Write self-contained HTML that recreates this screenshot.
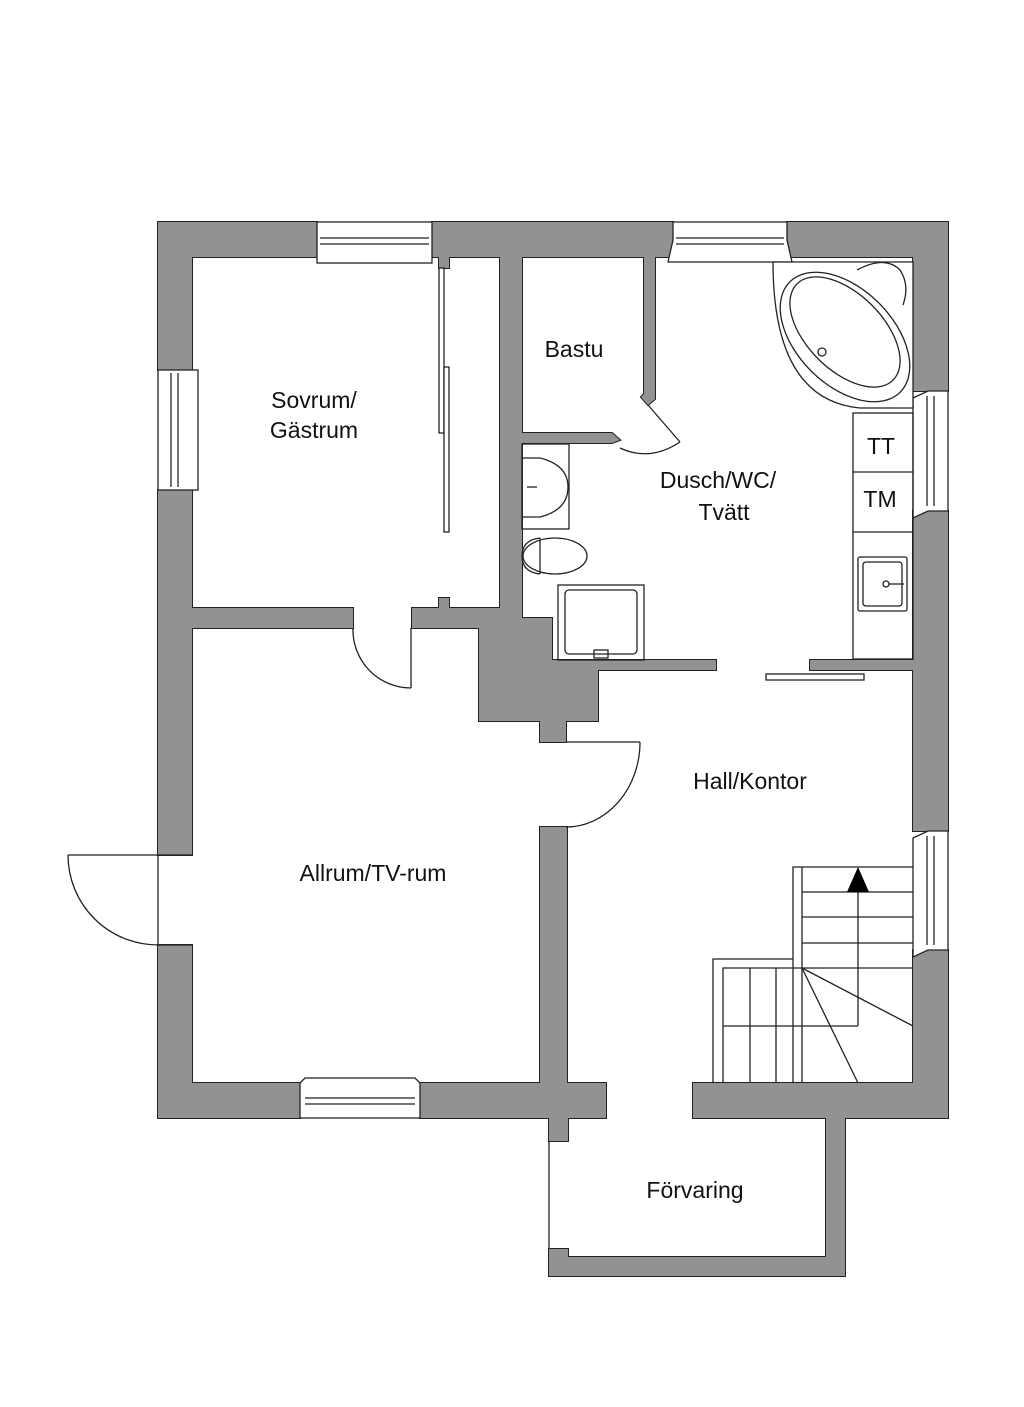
<!DOCTYPE html>
<html><head><meta charset="utf-8"><style>
html,body{margin:0;padding:0;background:#fff;}
svg{display:block}
text{font-family:"Liberation Sans",sans-serif;font-size:23px;fill:#111;}
</style></head><body>
<svg width="1024" height="1407" viewBox="0 0 1024 1407" xmlns="http://www.w3.org/2000/svg" xmlns:xlink="http://www.w3.org/1999/xlink">
<defs>
<g id="w">
<rect x="158" y="222" width="159" height="35"/>
<rect x="432" y="222" width="241" height="35"/>
<rect x="787" y="222" width="161" height="35"/>
<rect x="158" y="222" width="34" height="148"/>
<rect x="158" y="490" width="34" height="365"/>
<rect x="158" y="945" width="34" height="173"/>
<rect x="913" y="222" width="35" height="169"/>
<rect x="913" y="511" width="35" height="320"/>
<rect x="913" y="950" width="35" height="168"/>
<rect x="158" y="1083" width="142" height="35"/>
<rect x="420" y="1083" width="186" height="35"/>
<rect x="693" y="1083" width="255" height="35"/>
<rect x="500" y="250" width="22" height="367"/>
<rect x="185" y="608" width="168" height="20"/>
<rect x="412" y="608" width="88" height="20"/>
<polygon points="479,628 500,628 500,608 522,608 522,618 552,618 552,660 716,660 716,670 598,670 598,721 566,721 566,742 540,742 540,721 479,721"/>
<rect x="540" y="827" width="27" height="262"/>
<rect x="549" y="1112" width="19" height="29"/>
<polygon points="549,1249 568,1249 568,1257 826,1257 826,1112 845,1112 845,1276 549,1276"/>
<rect x="810" y="660" width="110" height="10"/>
<polygon points="515,433 612,433 620,440 612,443 515,443"/>
<polygon points="644,250 655,250 655,399 648,405 641,397 644,394"/>
<rect x="439" y="250" width="10" height="18"/>
<rect x="439" y="598" width="10" height="14"/>
</g>
</defs>
<use xlink:href="#w" href="#w" fill="#929292" stroke="#222" stroke-width="2"/>
<use xlink:href="#w" href="#w" fill="#929292" stroke="none"/>
<g fill="none" stroke="#222" stroke-width="1.3">
<rect x="317" y="222" width="115" height="41" fill="#fff"/>
<line x1="320" y1="238" x2="429" y2="238"/><line x1="320" y1="244" x2="429" y2="244"/>
<polygon points="673,222 787,222 787,240 792,262 668,262 673,240" fill="#fff"/>
<line x1="676" y1="238" x2="784" y2="238"/><line x1="676" y1="244" x2="784" y2="244"/>
<rect x="158" y="370" width="40" height="120" fill="#fff"/>
<line x1="171" y1="373" x2="171" y2="487"/><line x1="178" y1="373" x2="178" y2="487"/>
<polygon points="913,398 928,391 948,391 948,511 928,511 913,518" fill="#fff"/>
<line x1="927" y1="396" x2="927" y2="506"/><line x1="934" y1="396" x2="934" y2="506"/>
<polygon points="913,838 928,831 948,831 948,950 928,950 913,957" fill="#fff"/>
<line x1="927" y1="836" x2="927" y2="945"/><line x1="934" y1="836" x2="934" y2="945"/>
<polygon points="305,1078 415,1078 420,1083 420,1118 300,1118 300,1083" fill="#fff"/>
<line x1="305" y1="1098" x2="415" y2="1098"/><line x1="305" y1="1104" x2="415" y2="1104"/>
<line x1="158" y1="855" x2="192" y2="855"/><line x1="158" y1="945" x2="192" y2="945"/>
<line x1="158" y1="855" x2="158" y2="945"/>
<line x1="158" y1="855" x2="68" y2="855"/>
<path d="M68,855 A90,90 0 0 0 158,945"/>
<line x1="411" y1="628" x2="411" y2="688"/>
<path d="M353,628 A58,58 0 0 0 411,688"/>
<line x1="566" y1="742" x2="640" y2="742"/>
<path d="M640,742 A74,85 0 0 1 566,827"/>
<rect x="439" y="268" width="5" height="165" fill="#fff"/>
<rect x="444" y="367" width="5" height="165" fill="#fff"/>
<line x1="648" y1="405" x2="680" y2="442"/>
<path d="M620,448 Q650,462 680,442"/>
<rect x="766" y="674" width="98" height="6" fill="#fff"/>
<line x1="549" y1="1141" x2="549" y2="1249"/>
<rect x="522" y="444" width="47" height="85"/>
<path d="M522,458 L540,458 Q568,465 568,487 Q568,510 540,517 L522,517"/>
<line x1="527" y1="487" x2="537" y2="487"/>
<ellipse cx="555" cy="556" rx="32" ry="18"/>
<path d="M540,538 Q522,540 522,556 Q522,572 540,574"/>
<line x1="540" y1="538" x2="540" y2="574"/>
<rect x="558" y="585" width="86" height="75"/>
<rect x="565" y="590" width="72" height="64" rx="4"/>
<rect x="594" y="650" width="14" height="8"/>
<path d="M773,262 L913,262 L913,408 L860,408 Q773,400 773,262Z" fill="#fff"/>
<ellipse cx="845" cy="337" rx="78" ry="48" transform="rotate(45 845 337)"/>
<ellipse cx="845" cy="332" rx="68" ry="38" transform="rotate(45 845 332)"/>
<circle cx="822" cy="352" r="4"/>
<path d="M857,270 Q885,255 900,270 Q910,285 903,305"/>
<rect x="853" y="413" width="60" height="246"/>
<line x1="853" y1="472" x2="913" y2="472"/>
<line x1="853" y1="532" x2="913" y2="532"/>
<rect x="858" y="557" width="49" height="54" rx="2"/>
<rect x="863" y="562" width="39" height="44" rx="3"/>
<circle cx="886" cy="584" r="3"/><line x1="889" y1="584" x2="904" y2="584"/>
<polyline points="793,1083 793,867 913,867"/>
<polyline points="713,1083 713,959 793,959"/>
<polyline points="723,1083 723,968 913,968"/>
<line x1="802" y1="867" x2="802" y2="1083"/>
<line x1="802" y1="892" x2="913" y2="892"/>
<line x1="802" y1="917" x2="913" y2="917"/>
<line x1="802" y1="943" x2="913" y2="943"/>
<line x1="750" y1="968" x2="750" y2="1083"/>
<line x1="776" y1="968" x2="776" y2="1083"/>
<line x1="723" y1="1026" x2="858" y2="1026"/>
<line x1="858" y1="880" x2="858" y2="1026"/>
<line x1="802" y1="968" x2="913" y2="1026"/>
<line x1="802" y1="968" x2="858" y2="1083"/>
</g>
<polygon points="858,867 847,892 869,892" fill="#000"/>
<text x="314" y="408" text-anchor="middle">Sovrum/</text>
<text x="314" y="438" text-anchor="middle">Gästrum</text>
<text x="574" y="357" text-anchor="middle">Bastu</text>
<text x="718" y="488" text-anchor="middle">Dusch/WC/</text>
<text x="724" y="520" text-anchor="middle">Tvätt</text>
<text x="881" y="454" text-anchor="middle">TT</text>
<text x="880" y="507" text-anchor="middle">TM</text>
<text x="750" y="789" text-anchor="middle">Hall/Kontor</text>
<text x="373" y="881" text-anchor="middle">Allrum/TV-rum</text>
<text x="695" y="1198" text-anchor="middle">Förvaring</text>
</svg>
</body></html>
